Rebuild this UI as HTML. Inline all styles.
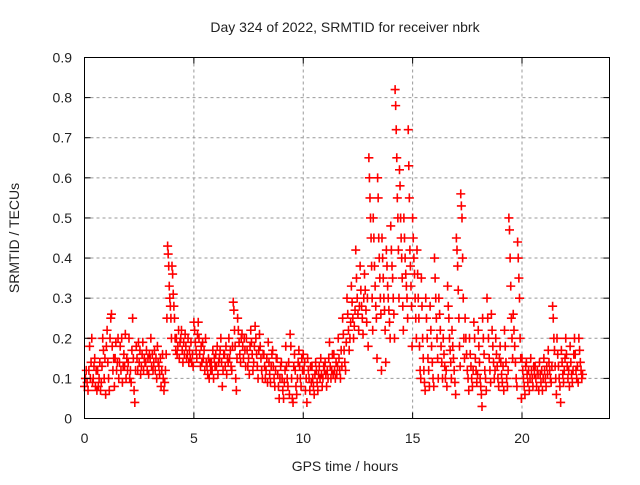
<!DOCTYPE html>
<html><head><meta charset="utf-8"><style>
body{margin:0;background:#fff}
svg text{font-family:"Liberation Sans",sans-serif;font-size:14px;fill:#222}
</style></head><body>
<svg id="chart" width="640" height="480" viewBox="0 0 640 480">
<text x="345" y="32" text-anchor="middle">Day 324 of 2022, SRMTID for receiver nbrk</text>
<g id="grid"></g><g id="marks"></g><g id="axes"></g>
<text x="345" y="471" text-anchor="middle">GPS time / hours</text>
<text transform="translate(19,238) rotate(-90)" text-anchor="middle">SRMTID / TECUs</text>
</svg>
<script>
const xTicks=[0,5,10,15,20];
const yTicks=[0,0.1,0.2,0.3,0.4,0.5,0.6,0.7,0.8,0.9];
const yTickLabels=["0","0.1","0.2","0.3","0.4","0.5","0.6","0.7","0.8","0.9"];
const binStart=0, binWidth=0.2;
const bins=[
[.08,.1,.12,.09,.07],[.12,.18,.1,.14,.2,.09],[.1,.13,.15,.08,.12,.07],[.12,.08,.1,.14,.07,.09],[.13,.2,.17,.1,.15,.06],
[.18,.22,.14,.1,.07,.2],[.25,.26,.18,.12,.15,.08],[.15,.19,.12,.14,.2,.1],[.14,.18,.12,.2,.09,.13],[.16,.13,.21,.1,.15,.12],
[.14,.2,.1,.12,.09,.17],[.25,.15,.07,.04,.12,.18],[.15,.12,.19,.14,.17,.11],[.13,.16,.19,.12,.15,.14],[.14,.17,.12,.15,.11,.16],
[.15,.2,.13,.16,.12,.14],[.17,.12,.15,.1,.18,.14],[.13,.11,.15,.08,.12,.16],[.1,.07,.09,.12,.16,.25],[.43,.41,.38,.33,.3,.28,.25,.2],
[.38,.36,.31,.28,.25,.2,.17],[.2,.16,.18,.22,.15,.19],[.2,.22,.17,.14,.19,.16],[.21,.18,.15,.16,.2,.14],[.17,.15,.19,.14,.16,.13],
[.24,.22,.19,.17,.15,.21],[.24,.2,.16,.13,.18,.14],[.19,.15,.17,.12,.2,.14],[.13,.11,.15,.1,.14,.12],[.14,.12,.17,.1,.15,.13],
[.16,.13,.18,.11,.14,.15],[.17,.2,.14,.08,.12,.16],[.16,.13,.18,.11,.15,.14],[.2,.15,.17,.13,.12,.18],[.29,.27,.22,.18,.1,.07,.15],
[.25,.22,.19,.16,.14,.2],[.21,.18,.15,.2,.17,.13],[.2,.17,.13,.15,.11,.18],[.22,.19,.16,.12,.14,.18],[.23,.2,.16,.13,.1,.17],
[.21,.18,.15,.12,.1,.16],[.16,.13,.1,.12,.15,.09],[.19,.14,.11,.09,.13,.16],[.17,.13,.1,.08,.12,.15],[.15,.11,.08,.05,.1,.13],
[.14,.1,.07,.05,.09,.12],[.18,.13,.1,.08,.14,.06],[.21,.18,.1,.05,.04,.13],[.16,.12,.08,.06,.1,.14],[.17,.13,.1,.08,.15,.12],
[.16,.12,.14,.07,.1,.04],[.15,.12,.1,.07,.13,.09],[.13,.1,.08,.06,.11,.14],[.12,.09,.07,.11,.13,.1],[.15,.11,.08,.1,.13,.12],
[.14,.11,.08,.12,.1,.15],[.19,.13,.1,.12,.16,.11],[.16,.12,.1,.14,.11,.13],[.2,.15,.12,.1,.17,.13],[.25,.21,.17,.14,.12,.19],
[.3,.26,.22,.17,.2,.24],[.33,.29,.25,.2,.23,.27],[.42,.35,.3,.26,.22,.28],[.38,.32,.28,.25,.21,.3],[.36,.32,.27,.24,.3,.18],
[.65,.6,.55,.5,.45,.38,.3,.22],[.5,.45,.38,.33,.28,.25,.15],[.6,.55,.45,.4,.35,.3,.26,.12],[.45,.4,.35,.3,.27,.22,.14],[.42,.38,.33,.3,.27,.24,.2],
[.48,.42,.38,.35,.3,.26,.2],[.82,.78,.72,.65,.55,.5,.42,.3],[.62,.58,.5,.45,.4,.35,.28,.22],[.5,.45,.4,.36,.33,.3,.25],[.72,.63,.55,.42,.38,.33,.28,.18],
[.5,.45,.4,.36,.3,.25,.2],[.42,.36,.3,.25,.18,.12,.1],[.35,.28,.2,.15,.12,.09,.07],[.3,.25,.2,.15,.12,.08],[.28,.22,.18,.14,.1,.08],
[.4,.35,.3,.25,.2,.15,.1],[.3,.26,.22,.18,.14,.1],[.2,.16,.13,.1,.12,.08],[.33,.28,.25,.2,.17,.14,.1],[.22,.18,.15,.12,.09,.06],
[.45,.42,.38,.32,.25,.18,.13],[.56,.53,.5,.4,.3,.2,.15],[.25,.2,.16,.12,.1,.07],[.2,.16,.13,.1,.08,.12],[.24,.2,.15,.12,.09,.11],
[.22,.18,.14,.1,.08,.06,.03],[.25,.2,.16,.12,.1,.07],[.3,.25,.2,.15,.12,.09],[.26,.22,.18,.14,.1,.12],[.2,.16,.13,.1,.08,.15],
[.18,.14,.11,.09,.13,.07],[.22,.18,.14,.1,.08,.12],[.5,.47,.4,.33,.25,.2,.15],[.26,.22,.18,.14,.1,.08],[.44,.4,.35,.3,.2,.15,.05],
[.15,.12,.1,.08,.06,.13],[.14,.11,.09,.12,.07,.1],[.15,.12,.1,.08,.13,.11],[.13,.1,.08,.12,.11,.07],[.14,.11,.09,.12,.07,.1],
[.15,.12,.1,.08,.13,.11],[.17,.14,.12,.1,.09,.13],[.28,.25,.2,.17,.13,.1,.06],[.2,.16,.13,.1,.08,.04],[.17,.14,.11,.09,.12,.15],
[.2,.16,.13,.1,.12,.08],[.18,.14,.11,.09,.12,.16],[.2,.16,.12,.1,.13,.09],[.2,.17,.14,.12,.1,.11]
];
const L=84.5,R=609.5,T=57.5,B=418.5,XMAX=24,YMAX=0.9;
const xs=v=>L+(R-L)*v/XMAX, ys=v=>B-(B-T)*v/YMAX;
const NS="http://www.w3.org/2000/svg";
function mk(parent,tag,attrs){const e=document.createElementNS(NS,tag);for(const k in attrs)e.setAttribute(k,attrs[k]);parent.appendChild(e);return e;}
const grid=document.getElementById('grid'),axes=document.getElementById('axes'),marks=document.getElementById('marks');
xTicks.forEach((t,i)=>{const x=xs(t);
 if(t>0){const g=mk(grid,'line',{x1:x,x2:x,y1:T,y2:B,stroke:'#999','stroke-dasharray':'3,3','stroke-width':1});
 
 }
 const tl=mk(axes,'text',{x:x,y:443,'text-anchor':'middle'});tl.textContent=String(t);
 
 
 mk(axes,'line',{x1:x,x2:x,y1:B,y2:B-6,stroke:'#000'});mk(axes,'line',{x1:x,x2:x,y1:T,y2:T+6,stroke:'#000'});
});
yTicks.forEach((t,i)=>{const y=ys(t);
 if(t>0&&t<YMAX){const g=mk(grid,'line',{x1:L,x2:R,y1:y,y2:y,stroke:'#999','stroke-dasharray':'3,3','stroke-width':1});
 
 }
 const tl=mk(axes,'text',{x:72,y:y+5,'text-anchor':'end'});tl.textContent=yTickLabels[i];
 
 
 mk(axes,'line',{x1:L,x2:L+6,y1:y,y2:y,stroke:'#000'});mk(axes,'line',{x1:R,x2:R-6,y1:y,y2:y,stroke:'#000'});
});
const fr=mk(axes,'rect',{x:L,y:T,width:R-L,height:B-T,fill:'none',stroke:'#000','stroke-width':1});


let d='';
bins.forEach((vals,i)=>{const t0=binStart+i*binWidth;
 vals.forEach((v,j)=>{const x=xs(t0+binWidth*j/vals.length),y=ys(v);
  d+=`M${x-4.5},${y}h9M${x},${y-4.5}v9`;});});
const p=mk(marks,'path',{d:d,stroke:'#f00','stroke-width':1.6,fill:'none'});


</script>
</body></html>
